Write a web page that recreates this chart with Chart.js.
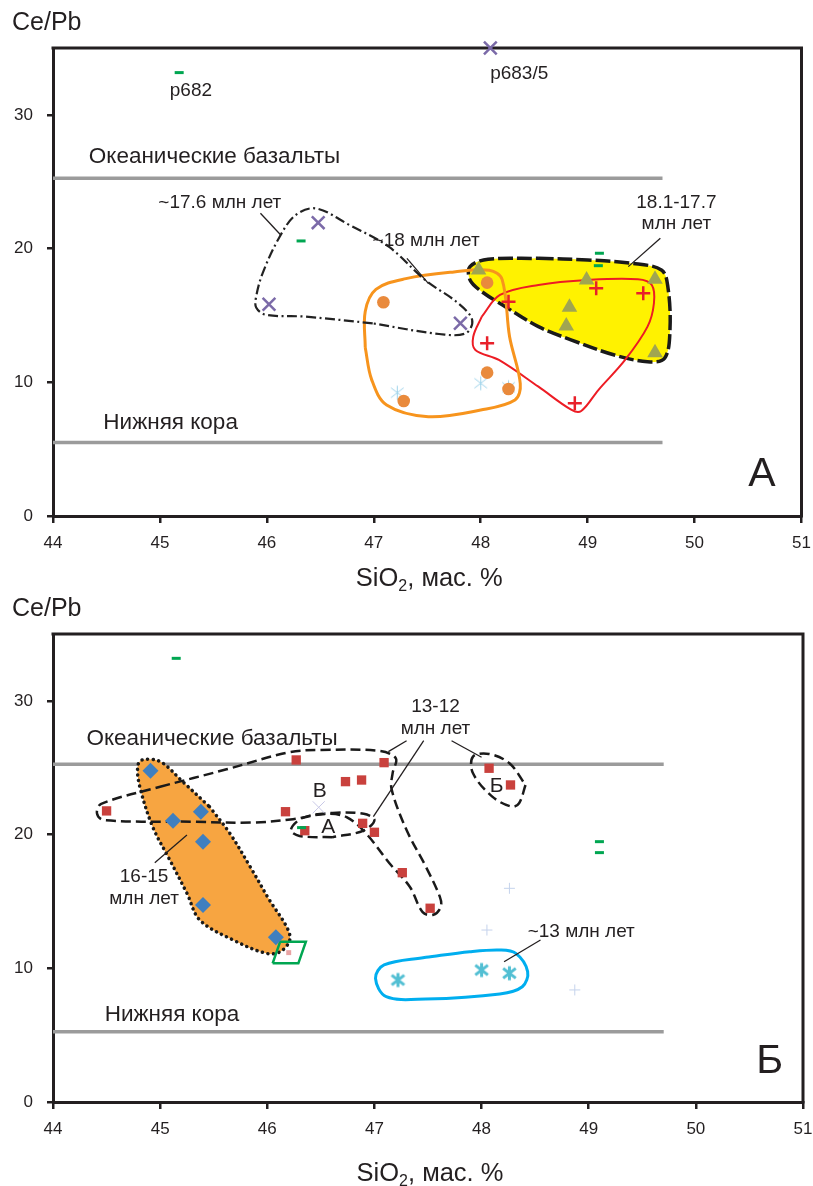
<!DOCTYPE html>
<html lang="ru">
<head>
<meta charset="UTF-8">
<title>Ce/Pb – SiO2</title>
<script src="https://cdn.jsdelivr.net/npm/chart.js"></script>
<style>
  body { margin: 0; background: #fff; }
  canvas { display: block; }
</style>
</head>
<body>
<canvas id="chartA" width="813" height="596"></canvas>
<canvas id="chartB" width="813" height="590"></canvas>
<script>
// ---- axes ----
const xTicks = [44, 45, 46, 47, 48, 49, 50, 51];
const yTicks = [0, 10, 20, 30];

// ---- reference levels (SiO2 from, SiO2 to, Ce/Pb) ----
const oceanLevel = [[44, 25.25], [49.7, 25.25]];
const crustLevelA = [[44, 5.5], [49.7, 5.5]];
const crustLevelB = [[44, 5.25], [49.7, 5.25]];

// ---- panel A samples [SiO2, Ce/Pb] ----
const aCrosses = [[48.09, 35.0], [46.48, 21.94], [46.02, 15.83], [47.81, 14.41]];
const aDashes = [[45.18, 33.16], [46.32, 20.57], [49.11, 19.65], [49.10, 18.72]];
const aCircles = [[47.09, 15.98], [48.06, 17.45], [48.06, 10.72], [48.26, 9.50], [47.28, 8.60]];
const aStars = [[47.22, 9.22], [48.0, 9.93], [48.26, 9.63]];
const aPluses = [[49.08, 17.03], [49.52, 16.66], [48.26, 16.03], [48.06, 12.92], [48.88, 8.43]];
const aTriangles = [[47.98, 18.4], [48.99, 17.65], [49.63, 17.7], [48.83, 15.61], [48.80, 14.21], [49.63, 12.21]];

// ---- panel A fields ----
const aField176 = [[46.99, 14.41], [46.36, 14.91], [45.99, 15.05], [45.90, 15.6], [45.90, 16.4], [45.96, 18.15],
  [46.12, 20.89], [46.27, 22.51], [46.46, 23.0], [46.77, 21.77], [47.14, 20.14], [47.48, 17.65],
  [47.79, 15.91], [47.92, 14.66], [47.86, 13.66], [47.61, 13.61], [46.99, 14.41]];
const aField18 = [[46.92, 12.6], [46.92, 15.3], [47.02, 16.95], [47.3, 17.75], [47.75, 18.25], [48.08, 18.38],
  [48.2, 17.7], [48.27, 13.4], [48.37, 9.9], [48.32, 8.68], [48.0, 7.93], [47.51, 7.43], [47.12, 8.3],
  [46.98, 10.2], [46.92, 12.6]];
const aFieldPlus = [[48.01, 14.91], [48.18, 16.53], [48.54, 17.28], [49.0, 17.65], [49.47, 17.70], [49.60, 17.28],
  [49.62, 15.91], [49.56, 14.16], [49.35, 11.67], [49.10, 9.42], [48.94, 7.85], [48.85, 7.93], [48.54, 9.67],
  [48.17, 11.67], [47.95, 12.42], [47.93, 13.41], [48.01, 14.91]];
const aField181 = [[48.54, 19.27], [49.0, 19.15], [49.41, 18.90], [49.69, 18.40], [49.75, 17.15], [49.77, 13.91],
  [49.72, 11.80], [49.56, 11.54], [49.25, 12.04], [48.85, 13.16], [48.54, 14.16], [48.23, 15.65], [48.01, 16.78],
  [47.90, 17.65], [47.90, 18.65], [48.07, 19.20], [48.54, 19.27]];

// ---- panel B samples ----
const bDiamonds = [[44.91, 24.78], [45.12, 21.04], [45.38, 21.71], [45.40, 19.47], [45.40, 14.73], [46.08, 12.32]];
const bSquares = [[44.50, 21.77], [46.27, 25.58], [47.09, 25.38], [46.73, 23.96], [46.88, 24.08], [46.17, 21.71],
  [46.35, 20.29], [46.89, 20.84], [47.0, 20.17], [47.26, 17.15], [47.52, 14.49], [48.07, 24.96], [48.27, 23.71]];
const bPink = [[46.20, 11.17]];
const bDashes = [[45.15, 33.18], [46.32, 20.52], [49.10, 19.47], [49.10, 18.65]];
const bStars = [[47.22, 9.12], [48.0, 9.87], [48.26, 9.63]];
const bFaintPluses = [[48.26, 15.98], [48.05, 12.86], [48.87, 8.38]];
const bFaintCrosses = [[46.48, 22.04]];

// ---- panel B fields ----
const bField1615 = [[45.46, 22.09], [45.65, 20.10], [45.84, 17.60], [46.02, 15.11], [46.18, 13.11], [46.21, 12.12],
  [46.12, 11.24], [45.99, 11.12], [45.68, 12.12], [45.37, 13.61], [45.25, 15.61], [45.09, 18.10], [44.93, 20.59],
  [44.81, 23.58], [44.79, 25.08], [44.83, 25.58], [45.0, 25.46], [45.21, 23.96], [45.46, 22.09]];
const bFieldV = [[45.0, 23.58], [45.62, 24.88], [46.2, 26.15], [46.5, 26.33], [47.05, 26.25], [47.2, 25.7],
  [47.17, 24.6], [47.16, 23.4], [47.30, 20.34], [47.48, 17.6], [47.61, 15.36], [47.62, 14.6], [47.55, 14.0],
  [47.45, 14.2], [47.33, 16.1], [47.14, 17.85], [46.92, 20.1], [46.74, 21.3], [46.55, 21.55], [46.24, 21.15],
  [45.86, 20.9], [45.31, 20.96], [44.47, 21.09], [44.41, 21.6], [44.45, 22.3], [45.0, 23.58]];
const bFieldA = [[46.61, 19.80], [46.3, 19.9], [46.22, 20.35], [46.33, 21.25], [46.61, 21.62], [46.9, 21.55],
  [47.0, 21.09], [46.9, 20.3], [46.61, 19.80]];
const bFieldB = [[48.41, 23.71], [48.35, 22.34], [48.28, 22.09], [48.10, 22.84], [47.92, 24.58], [47.92, 25.83],
  [48.07, 26.03], [48.26, 25.33], [48.41, 23.71]];
const bField13 = [[47.48, 10.82], [47.89, 11.24], [48.17, 11.37], [48.32, 11.12], [48.43, 9.75], [48.38, 8.62],
  [48.17, 8.08], [47.48, 7.70], [47.11, 7.88], [47.01, 9.25], [47.09, 10.25], [47.48, 10.82]];
const bFrame = [[46.05, 10.37], [46.12, 11.99], [46.36, 11.99], [46.29, 10.37], [46.05, 10.37]];

const ink = '#231f20';
const font = '"Liberation Sans", Arial, sans-serif';

const pts = arr => arr.map(([x, y]) => ({ x, y }));

// six-armed asterisk used as a point image
function asterisk(color, r, lw) {
  const c = document.createElement('canvas');
  const s = Math.ceil(2 * r + lw + 2);
  c.width = c.height = s;
  const g = c.getContext('2d');
  const m = s / 2;
  g.strokeStyle = color;
  g.lineWidth = lw;
  g.beginPath();
  g.moveTo(m, m - r); g.lineTo(m, m + r);
  g.moveTo(m - 0.9 * r, m - 0.7 * r); g.lineTo(m + 0.9 * r, m + 0.7 * r);
  g.moveTo(m + 0.9 * r, m - 0.7 * r); g.lineTo(m - 0.9 * r, m + 0.7 * r);
  g.stroke();
  return c;
}

function markers(data, style, color, radius, width, order) {
  return {
    data: pts(data), showLine: false, pointStyle: style, pointRadius: radius, pointHoverRadius: radius,
    pointBorderColor: color, pointBackgroundColor: color, pointBorderWidth: width,
    clip: false, order: order || 0
  };
}

function outline(data, color, width, dash, extra) {
  return Object.assign({
    data: pts(data), showLine: true, pointRadius: 0, pointHoverRadius: 0, borderColor: color,
    borderWidth: width, borderDash: dash || [], tension: 0.35, fill: false, order: 5
  }, extra || {});
}

function level(data) {
  return outline(data, '#9b9b9b', 3.5, [], { tension: 0, order: 8 });
}

// top and right edges of the frame
const frame = {
  id: 'frame',
  beforeDatasetsDraw(chart) {
    const { ctx, chartArea: a } = chart;
    ctx.save();
    ctx.strokeStyle = ink;
    ctx.lineWidth = 3;
    ctx.beginPath();
    ctx.moveTo(a.left - 1.5, a.top);
    ctx.lineTo(a.right, a.top);
    ctx.lineTo(a.right, a.bottom + 1.5);
    ctx.stroke();
    ctx.restore();
  }
};

// labels, leader lines and axis titles
function notes(panel) {
  return {
    id: 'notes',
    afterDatasetsDraw(chart) {
      const { ctx } = chart;
      const sx = chart.scales.x, sy = chart.scales.y;
      ctx.save();
      ctx.strokeStyle = ink;
      ctx.lineWidth = 1.3;
      panel.leaders.forEach(([x1, y1, x2, y2]) => {
        ctx.beginPath();
        ctx.moveTo(sx.getPixelForValue(x1), sy.getPixelForValue(y1));
        ctx.lineTo(sx.getPixelForValue(x2), sy.getPixelForValue(y2));
        ctx.stroke();
      });
      ctx.fillStyle = ink;
      ctx.textAlign = 'center';
      ctx.textBaseline = 'middle';
      panel.labels.forEach(([text, x, y, size]) => {
        ctx.font = size + 'px ' + font;
        ctx.fillText(text, sx.getPixelForValue(x), sy.getPixelForValue(y));
      });
      ctx.restore();
    },
    afterDraw(chart) {
      const { ctx, chartArea: a } = chart;
      ctx.save();
      ctx.fillStyle = ink;
      ctx.textBaseline = 'alphabetic';
      ctx.textAlign = 'left';
      ctx.font = '25px ' + font;
      ctx.fillText('Ce/Pb', 12, panel.top - 18);

      const big = '25.5px ' + font, small = '16px ' + font;
      ctx.font = big;
      const w1 = ctx.measureText('SiO').width, w3 = ctx.measureText(', мас. %').width;
      ctx.font = small;
      const w2 = ctx.measureText('2').width;
      let x = (a.left + a.right) / 2 - (w1 + w2 + w3) / 2 + 2;
      const y = panel.titleBaseline;
      ctx.font = big; ctx.fillText('SiO', x, y); x += w1;
      ctx.font = small; ctx.fillText('2', x, y + 5); x += w2;
      ctx.font = big; ctx.fillText(', мас. %', x, y);
      ctx.restore();
    }
  };
}

function scales(height, top) {
  const bottom = top + 468;
  return {
    x: {
      type: 'linear', min: 44, max: 51,
      afterBuildTicks: s => { s.ticks = xTicks.map(v => ({ value: v })); },
      afterFit: s => { s.height = height - bottom; s.paddingLeft = 0; s.paddingRight = 0; },
      grid: { drawOnChartArea: false, drawTicks: true, tickLength: 7, color: ink, lineWidth: 2.5 },
      border: { display: true, color: ink, width: 3 },
      ticks: { color: ink, font: { family: font, size: 17 }, padding: 10, maxRotation: 0 }
    },
    y: {
      type: 'linear', min: 0, max: 35,
      afterBuildTicks: s => { s.ticks = yTicks.map(v => ({ value: v })); },
      afterFit: s => { s.width = 53; s.paddingTop = 0; s.paddingBottom = 0; },
      grid: { drawOnChartArea: false, drawTicks: true, tickLength: 6, color: ink, lineWidth: 2.5 },
      border: { display: true, color: ink, width: 3 },
      ticks: { color: ink, font: { family: font, size: 17 }, padding: 14 }
    }
  };
}

function options(height, top) {
  return {
    responsive: false,
    animation: false,
    events: [],
    layout: { padding: { top: top, right: 9, left: 0, bottom: 0 } },
    plugins: { legend: { display: false }, tooltip: { enabled: false } },
    scales: scales(height, top)
  };
}

const panelA = {
  top: 48,
  titleBaseline: 586,
  labels: [
    ['p682', 45.29, 31.81, 19],
    ['p683/5', 48.36, 33.11, 19],
    ['Океанические базальты', 45.51, 26.87, 22.5],
    ['Нижняя кора', 45.10, 6.98, 22.5],
    ['~17.6 млн лет', 45.56, 23.45, 19],
    ['~18 млн лет', 47.49, 20.55, 19],
    ['18.1-17.7', 49.83, 23.43, 19],
    ['млн лет', 49.83, 21.84, 19],
    ['А', 50.63, 3.07, 41]
  ],
  leaders: [[45.94, 22.64, 46.13, 21.02], [47.31, 19.27, 47.51, 17.40], [49.68, 20.77, 49.38, 18.65]]
};

const panelB = {
  top: 38,
  titleBaseline: 585,
  labels: [
    ['Океанические базальты', 45.485, 27.13, 22.5],
    ['Нижняя кора', 45.11, 6.51, 22.5],
    ['16-15', 44.85, 16.85, 19],
    ['млн лет', 44.85, 15.18, 19],
    ['13-12', 47.57, 29.57, 19],
    ['млн лет', 47.57, 27.88, 19],
    ['~13 млн лет', 48.93, 12.74, 19],
    ['В', 46.49, 23.28, 21],
    ['А', 46.57, 20.55, 21],
    ['Б', 48.14, 23.63, 21],
    ['Б', 50.69, 2.99, 41]
  ],
  leaders: [[44.95, 17.90, 45.25, 19.97], [47.30, 27.02, 47.13, 26.20], [47.46, 27.02, 46.99, 21.34],
    [47.72, 27.02, 48.0, 25.78], [48.55, 12.12, 48.21, 10.49]]
};

new Chart(document.getElementById('chartA'), {
  type: 'scatter',
  data: {
    datasets: [
      markers(aDashes, 'line', '#00a651', 4.5, 3, 0),
      markers(aPluses, 'cross', '#e8202a', 7, 2.5, 1),
      markers(aCircles, 'circle', '#e98a3c', 6.3, 0, 1),
      markers(aCrosses, 'crossRot', '#7b6aa8', 9, 2.5, 1),
      markers(aStars, asterisk('#9fd3ea', 7, 1), '#9fd3ea', 7, 1, 2),
      markers(aTriangles, 'triangle', '#a0a551', 9, 0, 2),
      outline(aField176, '#222222', 2.2, [10, 3.5, 2, 3.5]),
      outline(aField18, '#f7941d', 3),
      outline(aFieldPlus, '#ed1c24', 2),
      outline(aField181, '#1a1a1a', 3.5, [15, 4], { fill: 'shape', backgroundColor: '#fff200', order: 6 }),
      level(oceanLevel),
      level(crustLevelA)
    ]
  },
  options: options(596, panelA.top),
  plugins: [frame, notes(panelA)]
});

new Chart(document.getElementById('chartB'), {
  type: 'scatter',
  data: {
    datasets: [
      markers(bDashes, 'line', '#00a651', 4.5, 3, 0),
      markers(bDiamonds, 'rectRot', '#3f7fbf', 8, 0, 1),
      markers(bSquares, 'rect', '#c9413d', 6.6, 0, 1),
      markers(bStars, asterisk('#52bfd3', 7, 3), '#52bfd3', 7, 3, 1),
      markers(bPink, 'rect', '#e8a3a3', 3.5, 0, 2),
      markers(bFaintPluses, 'cross', '#c5d3ec', 5.5, 1, 2),
      markers(bFaintCrosses, 'crossRot', '#c8c8e6', 8.5, 1, 2),
      outline(bFrame, '#00a651', 2.5, [], { tension: 0, order: 3 }),
      outline(bFieldV, '#1a1a1a', 2.5, [10, 5]),
      outline(bFieldA, '#1a1a1a', 2.5, [10, 5]),
      outline(bFieldB, '#1a1a1a', 2.5, [10, 5]),
      outline(bField13, '#00aeef', 3),
      outline(bField1615, '#1a1a1a', 3.5, [0.1, 5.5],
        { fill: 'shape', backgroundColor: '#f7a541', borderCapStyle: 'round', order: 6 }),
      level(oceanLevel),
      level(crustLevelB)
    ]
  },
  options: options(590, panelB.top),
  plugins: [frame, notes(panelB)]
});
</script>
</body>
</html>
